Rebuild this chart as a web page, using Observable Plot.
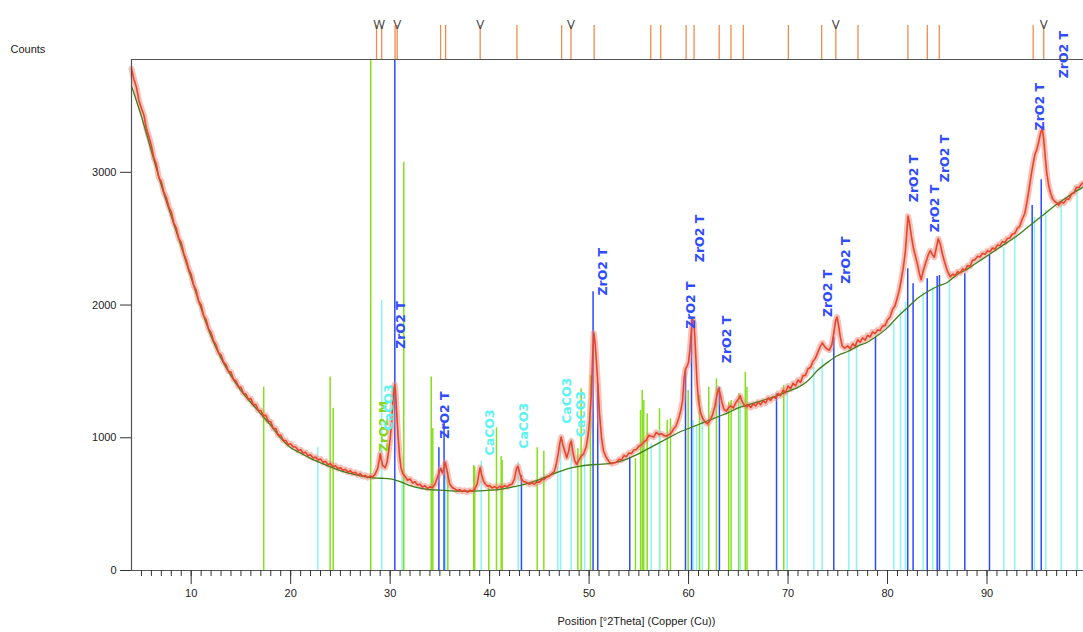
<!DOCTYPE html>
<html><head><meta charset="utf-8">
<script src="https://cdn.jsdelivr.net/npm/d3@7"></script>
<script src="https://cdn.jsdelivr.net/npm/@observablehq/plot@0.6"></script>
<style>body{margin:0;background:#fff}</style>
</head><body><div id="chart"></div>
<script>
// Observed pattern [°2θ, counts]
const observed = [[4.0,3780],[4.25,3700],[4.5,3640],[4.75,3540],[5.0,3480],[5.25,3430],[5.5,3330],[5.75,3270],[6.0,3200],[6.25,3110],[6.5,3060],[6.75,2960],[7.0,2930],[7.25,2850],[7.5,2810],[7.75,2740],[8.0,2700],[8.25,2620],[8.5,2580],[8.75,2500],[9.0,2470],[9.25,2390],[9.5,2340],[9.75,2270],[10.0,2230],[10.25,2150],[10.5,2110],[10.75,2030],[11.0,2000],[11.25,1920],[11.5,1890],[11.75,1820],[12.0,1790],[12.25,1730],[12.5,1700],[12.75,1640],[13.0,1625],[13.25,1570],[13.5,1550],[13.75,1500],[14.0,1495],[14.25,1440],[14.5,1430],[14.75,1385],[15.0,1380],[15.25,1335],[15.5,1330],[15.75,1290],[16.0,1295],[16.25,1250],[16.5,1250],[16.75,1205],[17.0,1205],[17.25,1165],[17.5,1170],[17.75,1125],[18.0,1120],[18.25,1070],[18.5,1070],[18.75,1020],[19.0,1020],[19.25,980],[19.5,980],[19.75,950],[20.0,955],[20.25,930],[20.5,930],[20.75,905],[21.0,910],[21.25,885],[21.5,890],[21.75,865],[22.0,872],[22.25,848],[22.5,855],[22.75,832],[23.0,840],[23.25,815],[23.5,822],[23.75,798],[24.0,805],[24.25,782],[24.5,790],[24.75,768],[25.0,775],[25.25,755],[25.5,762],[25.75,742],[26.0,752],[26.25,732],[26.5,740],[26.75,720],[27.0,730],[27.25,708],[27.5,718],[27.75,700],[28.0,712],[28.25,705],[28.5,728],[28.75,770],[28.9,830],[29.0,880],[29.1,840],[29.25,790],[29.5,775],[29.7,820],[29.85,900],[30.0,990],[30.15,1120],[30.3,1300],[30.4,1380],[30.47,1400],[30.55,1340],[30.65,1200],[30.8,1010],[30.95,860],[31.1,770],[31.3,725],[31.5,710],[31.75,680],[32.0,690],[32.25,660],[32.5,668],[32.75,645],[33.0,650],[33.25,628],[33.5,638],[33.75,618],[34.0,630],[34.25,625],[34.5,650],[34.75,700],[34.95,745],[35.1,770],[35.25,735],[35.4,770],[35.55,815],[35.7,760],[35.85,700],[36.0,650],[36.25,625],[36.5,615],[36.75,600],[37.0,610],[37.25,595],[37.5,605],[37.75,590],[38.0,605],[38.25,598],[38.5,615],[38.75,650],[38.95,740],[39.05,775],[39.2,720],[39.4,670],[39.6,650],[39.8,635],[40.0,640],[40.25,622],[40.5,632],[40.75,618],[41.0,635],[41.25,625],[41.5,640],[41.75,630],[42.0,645],[42.25,650],[42.5,690],[42.7,770],[42.85,785],[43.0,740],[43.2,690],[43.4,670],[43.7,665],[44.0,650],[44.25,662],[44.5,650],[44.75,668],[45.0,665],[45.25,685],[45.5,688],[45.75,705],[46.0,710],[46.25,730],[46.5,745],[46.7,800],[46.9,880],[47.05,960],[47.2,1005],[47.35,950],[47.55,900],[47.75,850],[47.95,900],[48.1,960],[48.22,975],[48.35,900],[48.55,830],[48.75,800],[48.95,830],[49.2,860],[49.45,880],[49.7,930],[49.9,1020],[50.05,1130],[50.2,1300],[50.35,1600],[50.47,1790],[50.6,1720],[50.75,1560],[50.9,1380],[51.05,1180],[51.25,1000],[51.45,900],[51.7,855],[52.0,820],[52.25,805],[52.5,812],[52.75,815],[53.0,838],[53.25,832],[53.5,866],[53.75,858],[54.0,885],[54.25,882],[54.5,908],[54.75,912],[55.0,938],[55.25,945],[55.5,968],[55.75,982],[56.0,1018],[56.25,1012],[56.5,1005],[56.75,1040],[57.0,1025],[57.25,1030],[57.5,1018],[57.75,1012],[58.0,1022],[58.25,1035],[58.5,1068],[58.75,1090],[59.0,1145],[59.2,1200],[59.4,1280],[59.55,1450],[59.7,1520],[59.85,1540],[60.0,1570],[60.15,1680],[60.3,1820],[60.42,1890],[60.55,1860],[60.7,1650],[60.85,1420],[61.0,1280],[61.2,1190],[61.4,1150],[61.65,1120],[61.9,1105],[62.15,1130],[62.4,1170],[62.65,1240],[62.85,1320],[63.0,1370],[63.15,1340],[63.35,1270],[63.55,1215],[63.8,1200],[64.0,1225],[64.25,1240],[64.5,1225],[64.75,1265],[65.0,1290],[65.2,1315],[65.4,1270],[65.65,1240],[65.9,1235],[66.0,1250],[66.25,1228],[66.5,1255],[66.75,1240],[67.0,1268],[67.25,1250],[67.5,1280],[67.75,1262],[68.0,1300],[68.25,1282],[68.5,1310],[68.75,1298],[69.0,1335],[69.25,1318],[69.5,1360],[69.75,1340],[70.0,1390],[70.25,1368],[70.5,1410],[70.75,1392],[71.0,1435],[71.25,1418],[71.5,1468],[71.75,1470],[72.0,1520],[72.25,1530],[72.5,1575],[72.75,1600],[73.0,1645],[73.25,1690],[73.45,1715],[73.65,1690],[73.9,1670],[74.15,1660],[74.4,1700],[74.6,1790],[74.78,1880],[74.92,1910],[75.05,1860],[75.25,1760],[75.45,1690],[75.7,1675],[76.0,1692],[76.25,1672],[76.5,1708],[76.75,1690],[77.0,1738],[77.25,1720],[77.5,1752],[77.75,1735],[78.0,1772],[78.25,1760],[78.5,1798],[78.75,1785],[79.0,1812],[79.25,1808],[79.5,1842],[79.75,1845],[80.0,1888],[80.25,1910],[80.5,1965],[80.75,1995],[81.0,2060],[81.2,2120],[81.4,2200],[81.6,2290],[81.8,2410],[81.95,2560],[82.06,2670],[82.2,2620],[82.4,2520],[82.6,2430],[82.8,2370],[83.0,2310],[83.2,2240],[83.38,2190],[83.6,2260],[83.85,2320],[84.1,2380],[84.3,2410],[84.5,2380],[84.7,2360],[84.9,2430],[85.1,2500],[85.3,2460],[85.5,2390],[85.75,2320],[86.0,2260],[86.3,2212],[86.55,2232],[86.8,2222],[87.05,2252],[87.3,2242],[87.55,2272],[87.8,2262],[88.05,2298],[88.3,2292],[88.55,2338],[88.8,2342],[89.05,2368],[89.3,2362],[89.55,2390],[89.8,2382],[90.05,2410],[90.3,2402],[90.55,2430],[90.8,2422],[91.05,2452],[91.3,2448],[91.55,2478],[91.8,2472],[92.05,2502],[92.3,2505],[92.55,2535],[92.8,2540],[93.05,2578],[93.3,2595],[93.55,2648],[93.8,2690],[94.0,2770],[94.2,2860],[94.4,2960],[94.6,3050],[94.8,3130],[95.0,3170],[95.2,3230],[95.4,3300],[95.55,3330],[95.7,3250],[95.85,3120],[96.0,3000],[96.2,2900],[96.4,2840],[96.6,2800],[96.8,2780],[97.0,2772],[97.2,2752],[97.45,2778],[97.7,2768],[98.0,2798],[98.25,2800],[98.5,2838],[98.75,2845],[99.0,2888],[99.25,2885],[99.5,2912],[99.7,2920]];

// Background line [°2θ, counts]
const background = [[4,3650],[5,3420],[6,3160],[7,2900],[8,2670],[9,2440],[10,2205],[11,1975],[12,1765],[13,1600],[14,1468],[15,1356],[16,1266],[17,1180],[18,1093],[19,997],[20,925],[21,884],[22,845],[23,812],[24,780],[25,752],[26,731],[27,713],[28,700],[29,695],[30,690],[31,670],[32,640],[33,620],[34,610],[35,605],[36,600],[37,598],[38,598],[39,600],[40,605],[41,612],[42,625],[43,640],[44,660],[45,685],[46,715],[47,745],[48,770],[49,785],[50,795],[51,800],[52,805],[53,820],[54,845],[55,880],[56,920],[57,960],[58,1000],[59,1040],[60,1070],[61,1100],[62,1130],[63,1160],[64,1190],[65,1225],[66,1250],[67,1270],[68,1295],[69,1320],[70,1350],[71,1380],[72,1430],[73,1510],[74,1570],[75,1620],[76,1650],[77,1690],[78,1720],[79,1770],[80,1830],[81,1910],[82,1980],[83,2050],[84,2100],[85,2140],[86,2170],[87,2230],[88,2270],[89,2320],[90,2370],[91,2420],[92,2470],[93,2520],[94,2580],[95,2640],[96,2700],[97,2760],[98,2810],[99,2860],[99.7,2890]];

// Reference sticks [°2θ, height]
const zro2M = [[17.29,1381],[23.97,1457],[24.27,1223],[28.05,3850],[31.37,3075],[34.13,1457],[34.29,1070],[35.8,741],[38.4,791],[38.5,780],[39.92,628],[40.69,1075],[41.16,859],[41.26,829],[44.78,925],[45.45,899],[48.87,917],[49.2,1369],[50.14,1470],[54.66,842],[55.17,1206],[55.34,1356],[55.5,1281],[55.84,1181],[57.08,1218],[57.85,1130],[58.18,1143],[59.96,1356],[61.1,1319],[62.03,1381],[62.8,1444],[64.04,1268],[64.28,1281],[65.05,1331],[65.7,1494],[65.87,1381],[69.57,1394]];
const caco3 = [[22.73,929],[29.16,2035],[31.2,700],[35.56,816],[39.15,824],[42.87,816],[46.86,779],[47.13,1005],[48.2,992],[49.55,880],[56.24,955],[57.1,1055],[60.46,1130],[60.8,1093],[61.37,1155],[65.2,1319],[69.91,1331],[72.59,1532],[73.43,1595],[76.11,1658],[76.88,1708],[80.63,1859],[81.3,1959],[81.8,2022],[83.58,2097],[84.55,2135],[86.23,2185],[91.69,2436],[92.79,2525],[94.77,2662],[95.91,2713],[97.46,2763],[99.06,2864]];
const zro2T = [[30.47,3850],[34.9,925],[35.42,1118],[43.2,716],[50.4,2100],[50.87,1407],[54.09,854],[59.69,1510],[60.3,1900],[63.1,1381],[68.84,1331],[74.6,1758],[78.79,1758],[82.03,2273],[82.57,2160],[83.99,2198],[84.99,2216],[85.22,2223],[87.77,2236],[90.25,2374],[94.54,2750],[95.45,2944]];

// Peak labels [text, °2θ, counts at label start, phase]
const peakLabels = [["ZrO2 M",29.36,892,"M"],["CaCO3",29.87,1055,"C"],["ZrO2 T",31.11,1671,"T"],["ZrO2 T",35.56,992,"T"],["CaCO3",39.99,867,"C"],["CaCO3",43.5,917,"C"],["CaCO3",47.8,1105,"C"],["CaCO3",49.2,1005,"C"],["ZrO2 T",51.35,2072,"T"],["ZrO2 T",60.2,1821,"T"],["ZrO2 T",61.1,2323,"T"],["ZrO2 T",63.88,1562,"T"],["ZrO2 T",74.0,1909,"T"],["ZrO2 T",75.78,2160,"T"],["ZrO2 T",82.64,2775,"T"],["ZrO2 T",84.82,2549,"T"],["ZrO2 T",85.76,2926,"T"],["ZrO2 T",95.37,3316,"T"],["ZrO2 T",97.69,3708,"T"]];

// Top reference strip
const refTicks = [28.63,29.15,30.5,30.71,35.07,35.58,39.05,42.75,47.24,48.18,50.51,56.2,57.2,59.75,60.55,63.08,64.26,65.5,70.03,73.38,74.8,77.03,82.05,84.0,85.2,94.64,95.7];
const refMarkAngles = [28.9,30.71,39.05,48.18,74.8,95.7];
const refMarkGlyphs = ["W","V","V","V","V","V"];

const xMajor = [10,20,30,40,50,60,70,80,90];
const xMinor = d3.range(5, 100);
const yTicks = [0,1000,2000,3000];

const phaseColor = {M:"#86d61e", C:"#5ef2f2", T:"#2f4dff"};
const toObj = arr => arr.map(([a,c]) => ({a, c}));
const labels = peakLabels.map(([t,a,c,p]) => ({t,a,c,p}));
const marks = refMarkAngles.map((a,i) => ({a, g: refMarkGlyphs[i]}));

const chart = Plot.plot({
  width: 1083, height: 632,
  marginLeft: 131, marginRight: 0, marginTop: 59, marginBottom: 62,
  x: {domain: [4, 99.7]},
  y: {domain: [0, 3850]},
  style: {fontFamily: "'Liberation Sans', Arial, sans-serif", fontSize: "11px", color: "#222", background: "#fff", overflow: "visible"},
  marks: [
    Plot.ruleX(toObj(zro2M), {x: "a", y1: 0, y2: "c", stroke: "#84e01a", strokeWidth: 1.5}),
    Plot.ruleX(toObj(caco3), {x: "a", y1: 0, y2: "c", stroke: "#8af5f5", strokeWidth: 1.5}),
    Plot.ruleX(toObj(zro2T), {x: "a", y1: 0, y2: "c", stroke: "#2a48ff", strokeWidth: 1.5}),
    Plot.line(toObj(observed), {x: "a", y: "c", stroke: "#f08672", strokeWidth: 6, strokeOpacity: 0.5}),
    Plot.line(toObj(background), {x: "a", y: "c", stroke: "#3d7f1c", strokeWidth: 1.3, curve: "monotone-x"}),
    Plot.line(toObj(observed), {x: "a", y: "c", stroke: "#e8432c", strokeWidth: 1.6}),
    Plot.text(labels, {x: "a", y: "c", text: "t", rotate: -90, textAnchor: "start", fill: d => phaseColor[d.p], fontWeight: "bold", fontSize: 12.5, fontFamily: "'DejaVu Sans', sans-serif"}),
    Plot.ruleX(refTicks, {x: d => d, insetTop: -34, insetBottom: 511, stroke: "#f28b4e", strokeWidth: 1.3}),
    Plot.text(marks, {x: "a", text: "g", frameAnchor: "top", dy: -39, fill: "#444", fontSize: 12}),
    Plot.ruleX([4], {stroke: "#555", strokeWidth: 1.2}),
    Plot.ruleY([0, 3850], {stroke: "#555", strokeWidth: 1.2}),
    Plot.axisX({ticks: xMinor, tickSize: 6, tickFormat: () => "", stroke: "#333", label: null}),
    Plot.axisX({ticks: xMajor, tickSize: 14, tickPadding: 5, stroke: "#333", fill: "#222", label: null}),
    Plot.axisY({ticks: yTicks, tickSize: 11, tickPadding: 4, tickFormat: d3.format("d"), stroke: "#333", fill: "#222", label: null}),
    Plot.text(["Counts"], {frameAnchor: "top-left", dx: -121, dy: -14, textAnchor: "start", fill: "#222"}),
    Plot.text(["Position [°2Theta] (Copper (Cu))"], {frameAnchor: "bottom-left", dx: 426, dy: 54, textAnchor: "start", fill: "#222"})
  ]
});
document.getElementById("chart").append(chart);
</script>
</body></html>
